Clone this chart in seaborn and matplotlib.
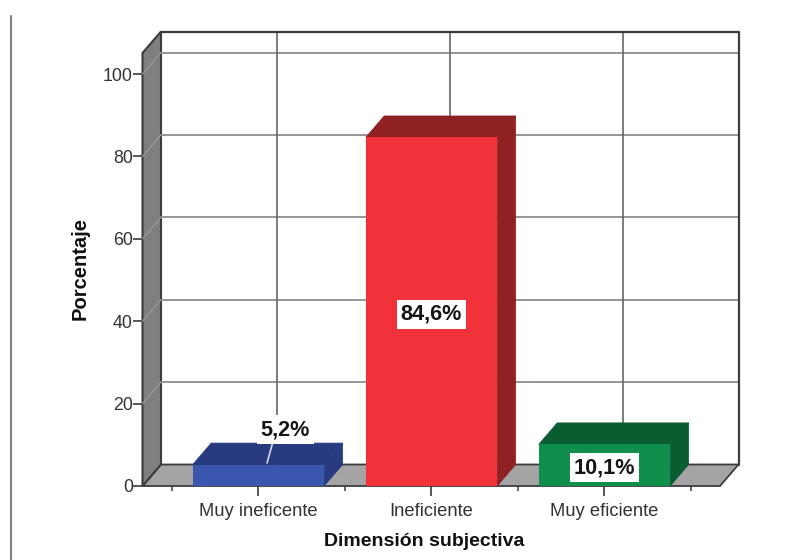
import matplotlib
matplotlib.use("Agg")
import matplotlib.pyplot as plt
from matplotlib.lines import Line2D
from matplotlib.patches import Polygon
import pandas as pd
import seaborn as sns

categories = ["Muy ineficente", "Ineficiente", "Muy eficiente"]
percentages = [5.2, 84.6, 10.1]
value_labels = ["5,2%", "84,6%", "10,1%"]
y_ticks = [0, 20, 40, 60, 80, 100]
front_colors = ["#3B56AE", "#F2323B", "#0F8F4B"]
shade_colors = ["#283B80", "#8F2024", "#0A5C31"]

WIDTH, HEIGHT = 793, 560
LEFT, RIGHT, BOTTOM, TOP = 142.5, 720.0, 486.0, 53.0
Y_MAX = 105.1
X_MIN, X_MAX = -0.67, 2.668
# Depth of the pseudo-3D box, in data units of the front plane.
DX = 18.5 / 173.0
DY = 21.5 / 4.12
BAR_WIDTH = 0.76

sns.set_theme(style="white")
plt.rcParams["font.family"] = ["Liberation Sans", "DejaVu Sans"]

fig = plt.figure(figsize=(WIDTH / 100, HEIGHT / 100), dpi=100, facecolor="white")
ax = fig.add_axes([LEFT / WIDTH, 1 - BOTTOM / HEIGHT,
                   (RIGHT - LEFT) / WIDTH, (BOTTOM - TOP) / HEIGHT])

frame = pd.DataFrame({"Dimension": categories, "Porcentaje": percentages})
sns.barplot(data=frame, x="Dimension", y="Porcentaje", hue="Dimension",
            palette=front_colors, order=categories, hue_order=categories,
            dodge=False, legend=False, width=BAR_WIDTH, saturation=1,
            linewidth=0, ax=ax, zorder=5)
ax.set_xlim(X_MIN, X_MAX)
ax.set_ylim(0, Y_MAX)
ax.patch.set_visible(False)
for side in ax.spines.values():
    side.set_visible(False)

DARK = "#3c3c3c"
GRID = "#8e8e8e"

# Floor and left wall of the box
ax.add_patch(Polygon([(X_MIN, 0), (X_MAX, 0), (X_MAX + DX, DY), (X_MIN + DX, DY)],
                     closed=True, facecolor="#A4A4A4", edgecolor=DARK, lw=1.3,
                     clip_on=False, zorder=1))
ax.add_patch(Polygon([(X_MIN, 0), (X_MIN + DX, DY), (X_MIN + DX, Y_MAX + DY), (X_MIN, Y_MAX)],
                     closed=True, facecolor="#7F7F7F", edgecolor=DARK, lw=1.5,
                     clip_on=False, zorder=1))

# Grid on the back wall and its continuation across the left wall
for tick in y_ticks[1:]:
    ax.plot([X_MIN + DX, X_MAX + DX], [tick + DY, tick + DY], color=GRID, lw=1.3,
            clip_on=False, zorder=2)
    ax.plot([X_MIN, X_MIN + DX], [tick, tick + DY], color="#9a9a9a", lw=0.9,
            clip_on=False, zorder=2)
for pos in range(len(categories)):
    ax.plot([pos + DX, pos + DX], [DY, Y_MAX + DY], color="#666666", lw=1.2,
            clip_on=False, zorder=2)

# Outer edges of the back wall
ax.plot([X_MIN + DX, X_MAX + DX, X_MAX + DX], [Y_MAX + DY, Y_MAX + DY, DY],
        color=DARK, lw=1.6, clip_on=False, zorder=3)

# Side and top faces of each bar, derived from the drawn front faces
bars = [patch for container in ax.containers for patch in container]
for bar, shade in zip(bars, shade_colors):
    x0, x1, h = bar.get_x(), bar.get_x() + bar.get_width(), bar.get_height()
    ax.add_patch(Polygon([(x1, 0), (x1 + DX, DY), (x1 + DX, h + DY), (x1, h)], closed=True,
                         facecolor=shade, edgecolor=shade, lw=0.5, clip_on=False, zorder=4))
    ax.add_patch(Polygon([(x0, h), (x1, h), (x1 + DX, h + DY), (x0 + DX, h + DY)], closed=True,
                         facecolor=shade, edgecolor=shade, lw=0.5, clip_on=False, zorder=4))
    bar.set_clip_on(False)

# Value labels: centred on the tall bars, raised with a leader on the short one
text_style = dict(ha="center", va="center_baseline", fontsize=15.6, fontweight="bold",
                  color="#151515", zorder=8,
                  bbox=dict(boxstyle="square,pad=0.18", facecolor="white", edgecolor="none"))
first_y = percentages[0] + 9.1
ax.plot([0.05, 0.085], [percentages[0] + 0.4, first_y - 3.4], color="#d5d9e8",
        lw=1.2, zorder=7, clip_on=False)
ax.text(0.155, first_y, value_labels[0], **text_style)
ax.text(1, percentages[1] / 2, value_labels[1], **text_style)
ax.text(2, percentages[2] / 2, value_labels[2], **text_style)

# Axes furniture
ax.set_yticks(y_ticks)
ax.set_xticks(range(len(categories)))
ax.set_xticklabels(categories)
ax.set_xticks([-0.5, 0.5, 1.5, 2.5], minor=True)
ax.tick_params(axis="y", which="major", left=True, length=7, width=1.2, color=DARK,
               labelsize=12.8, labelcolor="#333333", pad=0)
ax.tick_params(axis="x", which="major", bottom=True, length=7.5, width=1.2, color=DARK,
               labelsize=13.2, labelcolor="#333333", pad=4.5)
ax.tick_params(axis="x", which="minor", bottom=True, length=3.5, width=1.1, color=DARK)

ax.set_xlabel("Dimensión subjectiva", fontsize=14, fontweight="bold", color="#111111", va="center")
ax.set_ylabel("Porcentaje", fontsize=14.5, fontweight="bold", color="#111111", va="center")
ax.xaxis.set_label_coords((424 - LEFT) / (RIGHT - LEFT), (BOTTOM - 542) / (BOTTOM - TOP))
ax.yaxis.set_label_coords((80 - LEFT) / (RIGHT - LEFT), (BOTTOM - 268) / (BOTTOM - TOP))

# Thin rule running down the left margin
fig.add_artist(Line2D([11 / WIDTH, 11 / WIDTH], [0, 1 - 16 / HEIGHT], color="#808080", lw=1.5))

fig.savefig("out.png", dpi=100, facecolor="white")
